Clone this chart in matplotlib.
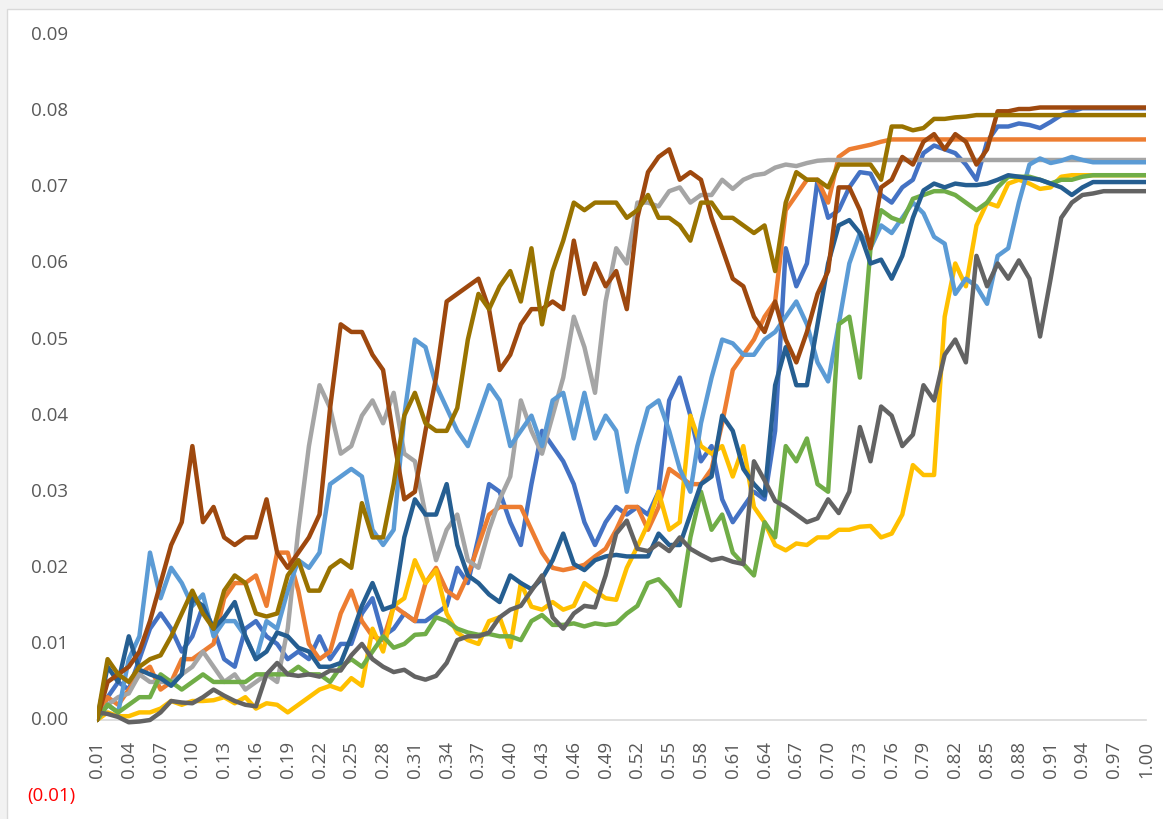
import matplotlib
matplotlib.use("Agg")
import matplotlib.pyplot as plt
import matplotlib.transforms as mtransforms
from matplotlib.patches import Rectangle

# Category axis: 0.01 .. 1.00
categories = [f"{k / 100:.2f}" for k in range(1, 101)]
y_ticks = [-0.01, 0.00, 0.01, 0.02, 0.03, 0.04, 0.05, 0.06, 0.07, 0.08, 0.09]
y_tick_labels = ["(0.01)", "0.00", "0.01", "0.02", "0.03", "0.04", "0.05",
                 "0.06", "0.07", "0.08", "0.09"]

s1 = [.000, .003, .005, .004, .008, .012, .014, .012, .009, .011,
      .015, .012, .008, .007, .012, .013, .011, .010, .008, .009,
      .008, .011, .008, .010, .010, .014, .016, .011, .012, .014,
      .013, .013, .014, .015, .020, .018, .024, .031, .030, .026,
      .023, .031, .038, .036, .034, .031, .026, .023, .026, .028,
      .027, .028, .027, .030, .042, .045, .040, .034, .036, .029,
      .026, .028, .030, .029, .038, .062, .057, .060, .071, .066,
      .067, .070, .072, .0718, .069, .068, .070, .071, .0745, .0755,
      .075, .0745, .073, .071, .076, .078, .078, .0784, .0782, .0778,
      .0786, .0795, .0800, .0804, .0804, .0804, .0804, .0804, .0804, .0804]

s2 = [.000, .003, .002, .004, .006, .007, .004, .005, .008, .008,
      .009, .010, .016, .018, .018, .019, .015, .022, .022, .017,
      .010, .008, .009, .014, .017, .013, .011, .0105, .015, .014,
      .013, .018, .020, .017, .016, .019, .023, .027, .028, .028,
      .028, .025, .022, .020, .0197, .020, .0204, .0215, .0225, .025,
      .028, .028, .025, .028, .033, .032, .031, .031, .033, .039,
      .046, .048, .050, .053, .055, .067, .069, .071, .071, .068,
      .074, .075, .0753, .0756, .076, .0763, .0763, .0763, .0763, .0763,
      .0763, .0763, .0763, .0763, .0763, .0763, .0763, .0763, .0763, .0763,
      .0763, .0763, .0763, .0763, .0763, .0763, .0763, .0763, .0763, .0763]

s3 = [.000, .002, .003, .0035, .006, .005, .005, .005, .006, .007,
      .009, .007, .005, .006, .004, .005, .006, .005, .012, .025,
      .036, .044, .041, .035, .036, .040, .042, .039, .043, .035,
      .034, .027, .021, .025, .027, .021, .020, .025, .029, .032,
      .042, .038, .035, .040, .045, .053, .049, .043, .055, .062,
      .060, .068, .068, .0675, .0695, .070, .068, .069, .069, .071,
      .0698, .071, .0716, .0718, .0726, .073, .0728, .0732, .0735, .0736,
      .0736, .0736, .0736, .0736, .0736, .0736, .0736, .0736, .0736, .0736,
      .0736, .0736, .0736, .0736, .0736, .0736, .0736, .0736, .0736, .0736,
      .0736, .0736, .0736, .0736, .0736, .0736, .0736, .0736, .0736, .0736]

s4 = [.000, .001, .0005, .0005, .001, .001, .0015, .0025, .002, .0025,
      .0025, .0026, .003, .0022, .003, .0015, .0022, .002, .001, .002,
      .003, .004, .0045, .004, .0055, .0045, .012, .009, .015, .016,
      .021, .018, .0197, .014, .0115, .0105, .010, .013, .0135, .0096,
      .018, .0149, .0145, .0155, .0145, .015, .018, .017, .016, .0158,
      .020, .0228, .0258, .030, .025, .026, .040, .036, .035, .036,
      .032, .036, .028, .026, .023, .0223, .0232, .023, .024, .024,
      .025, .025, .0254, .0255, .024, .0245, .027, .0335, .0322, .0322,
      .053, .060, .057, .065, .068, .0675, .0705, .071, .0705, .0698,
      .070, .0714, .0716, .0716, .0716, .0716, .0716, .0716, .0716, .0716]

s5 = [.000, .002, .001, .008, .011, .022, .016, .020, .018, .015,
      .0165, .011, .013, .013, .011, .008, .013, .012, .017, .021,
      .020, .022, .031, .032, .033, .032, .025, .023, .025, .040,
      .050, .049, .044, .041, .038, .036, .040, .044, .042, .036,
      .038, .040, .036, .042, .043, .037, .043, .037, .040, .038,
      .030, .036, .041, .042, .038, .033, .030, .039, .045, .050,
      .0495, .048, .048, .050, .051, .053, .055, .052, .047, .0445,
      .052, .060, .064, .062, .065, .064, .066, .068, .0666, .0635,
      .0626, .056, .058, .057, .0547, .061, .062, .068, .073, .0738,
      .0732, .0735, .074, .0736, .0733, .0733, .0733, .0733, .0733, .0733]

s6 = [.000, .002, .001, .002, .003, .003, .006, .005, .004, .005,
      .006, .005, .005, .005, .005, .006, .006, .006, .006, .007,
      .006, .006, .005, .007, .008, .007, .009, .011, .0095, .010,
      .0112, .0113, .0135, .013, .012, .0115, .0112, .0113, .011, .011,
      .0105, .013, .0138, .0125, .0125, .0127, .0123, .0127, .0125, .0127,
      .014, .015, .018, .0185, .017, .015, .024, .030, .025, .027,
      .022, .0205, .019, .026, .024, .036, .034, .037, .031, .030,
      .052, .053, .045, .062, .067, .066, .0655, .0685, .069, .0695,
      .0695, .069, .068, .067, .068, .070, .0714, .0714, .0714, .071,
      .0705, .071, .071, .0714, .0716, .0716, .0716, .0716, .0716, .0716]

s7 = [.000, .007, .005, .011, .0066, .006, .0055, .0045, .006, .016,
      .015, .012, .0135, .0155, .011, .008, .009, .0115, .011, .0095,
      .009, .007, .007, .0075, .011, .015, .018, .0145, .015, .024,
      .029, .027, .027, .031, .023, .019, .018, .0165, .0155, .019,
      .018, .0172, .0186, .021, .0245, .0205, .0197, .021, .0215, .0217,
      .0215, .0215, .0215, .0245, .023, .023, .027, .031, .032, .040,
      .038, .033, .031, .0295, .044, .049, .044, .044, .052, .060,
      .065, .0657, .064, .060, .0605, .058, .061, .066, .0696, .0705,
      .070, .0705, .0703, .0703, .0705, .071, .0716, .0714, .0712, .071,
      .0705, .070, .069, .070, .0707, .0707, .0707, .0707, .0707, .0707]

s8 = [.000, .005, .006, .007, .009, .013, .018, .023, .026, .036,
      .026, .028, .024, .023, .024, .024, .029, .022, .020, .022,
      .024, .027, .041, .052, .051, .051, .048, .046, .037, .029,
      .030, .038, .045, .055, .056, .057, .058, .054, .046, .048,
      .052, .054, .054, .055, .054, .063, .056, .060, .057, .059,
      .054, .066, .072, .074, .075, .071, .072, .071, .066, .062,
      .058, .057, .053, .051, .055, .050, .047, .051, .056, .059,
      .070, .070, .067, .062, .070, .071, .074, .073, .076, .077,
      .075, .077, .076, .073, .075, .080, .080, .0803, .0803, .0805,
      .0805, .0805, .0805, .0805, .0805, .0805, .0805, .0805, .0805, .0805]

s9 = [.001, .0008, .0004, -.0003, -.0002, .000, .001, .0025, .0023, .0022,
      .003, .004, .0032, .0025, .002, .0018, .006, .0075, .006, .0058,
      .006, .0057, .0065, .0065, .0085, .010, .008, .007, .0063, .0066,
      .0057, .0053, .0058, .0075, .0105, .011, .011, .0115, .0135, .0145,
      .015, .017, .019, .0135, .012, .014, .015, .0148, .019, .0245,
      .0262, .0225, .0222, .0232, .0222, .024, .0225, .0217, .021, .0213,
      .0208, .0205, .034, .0315, .0288, .028, .027, .026, .0265, .029,
      .0272, .030, .0385, .034, .0412, .040, .036, .0375, .044, .042,
      .048, .050, .047, .061, .057, .060, .058, .0604, .058, .0504,
      .058, .066, .068, .069, .0692, .0695, .0695, .0695, .0695, .0695]

s10 = [.000, .008, .006, .005, .007, .008, .0085, .011, .014, .017,
       .014, .012, .017, .019, .018, .014, .0136, .014, .019, .021,
       .017, .017, .020, .021, .020, .0285, .024, .024, .031, .040,
       .043, .039, .038, .038, .041, .050, .056, .054, .057, .059,
       .055, .062, .052, .059, .063, .068, .067, .068, .068, .068,
       .066, .067, .069, .066, .066, .065, .063, .068, .068, .066,
       .066, .065, .064, .065, .059, .068, .072, .071, .071, .070,
       .073, .073, .073, .073, .071, .078, .078, .0775, .0778, .079,
       .079, .0792, .0793, .0795, .0795, .0795, .0795, .0795, .0795, .0795,
       .0795, .0795, .0795, .0795, .0795, .0795, .0795, .0795, .0795, .0795]

series = [s1, s2, s3, s4, s5, s6, s7, s8, s9, s10]
colors = ["#4472C4", "#ED7D31", "#A5A5A5", "#FFC000", "#5B9BD5",
          "#70AD47", "#255E91", "#9E480E", "#636363", "#997300"]

W, H = 1163, 819
fig = plt.figure(figsize=(W / 100, H / 100), dpi=100, facecolor="#F2F2F2")
# white chart area with a thin border
fig.patches.append(Rectangle((7 / W, -0.01), 1.0, (H - 9) / H + 0.01,
                             transform=fig.transFigure, facecolor="white",
                             edgecolor="#D9D9D9", linewidth=1, zorder=-10))

ax = fig.add_axes([97 / W, (H - 796.1) / H, 1049 / W, 760.9 / H])
ax.set_zorder(5)
ax.set_facecolor("none")

x = list(range(len(categories)))
for vals, col in zip(series, colors):
    ax.plot(x, vals, color=col, linewidth=3.2, solid_joinstyle="round",
            solid_capstyle="round", zorder=3)

ax.set_xlim(0, len(categories) - 1)
ax.set_ylim(-0.01, 0.09)

for side in ("top", "right", "left"):
    ax.spines[side].set_visible(False)
ax.spines["bottom"].set_position(("data", 0))
ax.spines["bottom"].set_color("#D9D9D9")
ax.spines["bottom"].set_linewidth(1.2)

tick_idx = list(range(0, len(categories), 3))
ax.set_xticks(tick_idx)
ax.set_xticklabels([categories[i] for i in tick_idx], rotation=90,
                   fontsize=13.5, color="#595959", family="Open Sans")
ax.tick_params(axis="x", length=0, pad=15)
ax.set_yticks([])

# value axis labels (negative value shown in red, in parentheses)
for v, lab in zip(y_ticks, y_tick_labels):
    neg = v < 0
    tr = mtransforms.offset_copy(ax.get_yaxis_transform(), fig=fig,
                                 x=-21 if neg else -29, y=0, units="dots")
    ax.text(0, v, lab, transform=tr, ha="right", va="center",
            fontsize=13.5, family="Open Sans",
            color="#FF0000" if neg else "#595959")

fig.savefig("out.png", dpi=100, facecolor=fig.get_facecolor())
